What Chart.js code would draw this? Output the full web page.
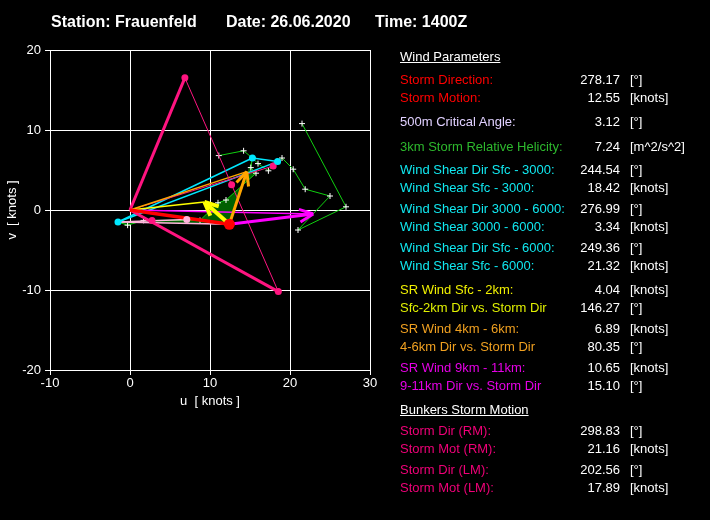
<!DOCTYPE html>
<html>
<head>
<meta charset="utf-8">
<script src="https://cdn.jsdelivr.net/npm/chart.js@4.4.1/dist/chart.umd.min.js"></script>
<style>
  html, body { margin: 0; padding: 0; background: #000; }
  #wrap { position: relative; width: 710px; height: 520px; overflow: hidden; font-family: Arial, "Liberation Sans", sans-serif; }
  #hodo { position: absolute; left: 0; top: 0; }
  .title { position: absolute; top: 13px; font-weight: bold; font-size: 16px; color: #fff; white-space: nowrap; }
  .row { position: absolute; font-size: 13px; line-height: 16px; white-space: nowrap; }
  .val { position: absolute; font-size: 13px; line-height: 16px; color: #fff; text-align: right; width: 80px; }
  .unit { position: absolute; font-size: 13px; line-height: 16px; color: #fff; }
  .head { text-decoration: underline; color: #fff; }
</style>
</head>
<body>
<div id="wrap">
  <canvas id="hodo" width="710" height="520"></canvas>
  <div id="panel"></div>
</div>
<script>
// hodograph (u, v) in knots, surface upward
const hodograph = [
  [-1.5, -1.5], [-0.3, -1.9], [1.7, -1.3], [8.75, -1.3], [11.0, 0.9], [12.0, 1.25],
  [15.75, 4.6], [15.1, 5.3], [15.3, 6.5], [16.0, 5.8], [17.3, 4.9], [18.45, 6.05],
  [19.0, 6.5], [20.4, 5.1], [21.9, 2.6], [25.0, 1.75], [21.0, -2.5], [27.0, 0.4], [21.5, 10.8]
];
const upperBranch = [[15.3, 6.5], [14.2, 7.4], [11.1, 6.8]];
const idx3km = 8;

const surfaceWind = [-1.5, -1.5];
const wind500m = [7.1, -1.2];
const wind3km = [15.3, 6.5];
const wind6km = [18.45, 6.05];

const stormMotion = [12.42, -1.78];
const meanSfc2km = [9.3, 1.0];
const mean4to6km = [14.6, 4.8];
const mean9to11km = [22.9, -0.5];

const bunkersRM = [18.54, -10.2];
const bunkersLM = [6.86, 16.52];
const bunkersMean = [12.7, 3.16];
const pinkExtra = [[17.9, 5.5], [2.75, -1.3]];

const xTicks = [-10, 0, 10, 20, 30];
const yTicks = [-20, -10, 0, 10, 20];

const paramLabels = [
  'Storm Direction:', 'Storm Motion:', '500m Critical Angle:', '3km Storm Relative Helicity:',
  'Wind Shear Dir Sfc - 3000:', 'Wind Shear Sfc - 3000:', 'Wind Shear Dir 3000 - 6000:', 'Wind Shear 3000 - 6000:',
  'Wind Shear Dir Sfc - 6000:', 'Wind Shear Sfc - 6000:', 'SR Wind Sfc - 2km:', 'Sfc-2km Dir vs. Storm Dir',
  'SR Wind 4km - 6km:', '4-6km Dir vs. Storm Dir', 'SR Wind 9km - 11km:', '9-11km Dir vs. Storm Dir',
  'Storm Dir (RM):', 'Storm Mot (RM):', 'Storm Dir (LM):', 'Storm Mot (LM):'
];
const paramValues = [
  '278.17', '12.55', '3.12', '7.24', '244.54', '18.42', '276.99', '3.34', '249.36', '21.32',
  '4.04', '146.27', '6.89', '80.35', '10.65', '15.10', '298.83', '21.16', '202.56', '17.89'
];
const paramUnits = [
  '[°]', '[knots]', '[°]', '[m^2/s^2]', '[°]', '[knots]', '[°]', '[knots]', '[°]', '[knots]',
  '[knots]', '[°]', '[knots]', '[°]', '[knots]', '[°]', '[°]', '[knots]', '[°]', '[knots]'
];
const paramColors = [
  '#ff0000', '#ff0000', '#e0d0ff', '#2db82d', '#10e8f0', '#10e8f0', '#10e8f0', '#10e8f0', '#10e8f0', '#10e8f0',
  '#f0f000', '#e0f000', '#f0a020', '#f0a020', '#e600e6', '#e600e6', '#f00078', '#f00078', '#f00078', '#f00078'
];
const paramRowY = [80, 98, 122, 147, 170, 188, 209, 227, 248, 266, 290, 308, 329, 347, 368, 386, 431, 449, 470, 488];

// --- right panel ---
const panel = document.getElementById('panel');
let html = '<div class="title" style="left:51px">Station: Frauenfeld</div>' +
  '<div class="title" style="left:226px">Date: 26.06.2020</div>' +
  '<div class="title" style="left:375px">Time: 1400Z</div>' +
  '<div class="row head" style="left:400px;top:49px">Wind Parameters</div>' +
  '<div class="row head" style="left:400px;top:402px">Bunkers Storm Motion</div>';
paramLabels.forEach((label, i) => {
  const top = paramRowY[i] - 8;
  html += `<div class="row" style="left:400px;top:${top}px;color:${paramColors[i]}">${label}</div>`;
  html += `<div class="val" style="left:540px;top:${top}px">${paramValues[i]}</div>`;
  html += `<div class="unit" style="left:630px;top:${top}px">${paramUnits[i]}</div>`;
});
panel.innerHTML = html;

// --- chart ---
const pt = p => ({ x: p[0], y: p[1] });
const seg = (a, b) => [pt(a), pt(b)];

function lineSet(data, color, width, order, extra) {
  return Object.assign({
    data: data, showLine: true, borderColor: color, backgroundColor: color,
    borderWidth: width, pointRadius: 0, order: order, tension: 0
  }, extra || {});
}

function dotSet(points, color, radius, order) {
  return {
    data: points.map(pt), showLine: false, pointRadius: radius, pointHoverRadius: radius,
    backgroundColor: color, borderColor: color, borderWidth: 0, order: order
  };
}

const helicityArea = [stormMotion].concat(hodograph.slice(0, idx3km + 1));
const crossMarks = {
  pointRadius: 3, pointStyle: 'cross', pointBorderColor: '#fff', pointBorderWidth: 1, pointBackgroundColor: '#fff'
};

const datasets = [
  lineSet(helicityArea.map(pt), 'rgba(0,0,0,0)', 0, 20, { fill: 'shape', backgroundColor: '#006000' }),
  lineSet(hodograph.map(pt), '#10d010', 1, 15, crossMarks),
  lineSet(upperBranch.map(pt), '#10d010', 1, 15, crossMarks),
  // 500m critical angle
  lineSet(seg(surfaceWind, wind500m), '#ffb4dc', 1.5, 12),
  lineSet(seg(surfaceWind, stormMotion), '#ffb4dc', 1.5, 12),
  // shear vectors
  lineSet(seg(surfaceWind, wind3km), '#00e8ff', 1.5, 11),
  lineSet(seg(surfaceWind, wind6km), '#00e8ff', 1.5, 11),
  lineSet(seg(wind3km, wind6km), '#00e8ff', 1.5, 11),
  // mean winds from origin
  lineSet(seg([0, 0], meanSfc2km), '#ffff00', 1.5, 10),
  lineSet(seg([0, 0], mean4to6km), '#ffa500', 1.5, 10),
  lineSet(seg([0, 0], mean9to11km), '#ff00ff', 1.5, 10),
  lineSet(seg([0, 0], pinkExtra[0]), '#ff1480', 1, 10),
  // bunkers
  lineSet(seg(bunkersLM, bunkersRM), '#ff1480', 1, 9),
  lineSet(seg([0, 0], bunkersLM), '#ff1480', 3, 8),
  lineSet(seg(bunkersRM, [0, 0]), '#ff1480', 3, 8),
  // storm motion
  lineSet(seg([0, 0], stormMotion), '#ff0000', 3.5, 7),
  // storm relative arrows
  lineSet(seg(stormMotion, meanSfc2km), '#ffff00', 4, 6, { arrow: true }),
  lineSet(seg(stormMotion, mean4to6km), '#ffa500', 3, 6, { arrow: true }),
  lineSet(seg(stormMotion, mean9to11km), '#ff00ff', 3, 6, { arrow: true }),
  // dots
  dotSet([bunkersLM, bunkersRM, bunkersMean].concat(pinkExtra), '#ff1480', 3.5, 3),
  dotSet([wind500m], '#ffb4dc', 3.5, 2),
  dotSet([surfaceWind, wind3km, wind6km], '#00e8ff', 3.5, 2),
  dotSet([stormMotion], '#ff0000', 5.5, 1)
];

const arrowHeads = {
  id: 'arrowHeads',
  afterDatasetsDraw(chart) {
    const ctx = chart.ctx;
    chart.data.datasets.forEach((ds, i) => {
      if (!ds.arrow) return;
      const pts = chart.getDatasetMeta(i).data;
      const a = pts[pts.length - 2], b = pts[pts.length - 1];
      const ang = Math.atan2(a.y - b.y, a.x - b.x);
      const len = 15, spread = 25 * Math.PI / 180;
      ctx.save();
      ctx.strokeStyle = ds.borderColor;
      ctx.lineWidth = ds.borderWidth;
      ctx.beginPath();
      [ang - spread, ang + spread].forEach(t => {
        ctx.moveTo(b.x, b.y);
        ctx.lineTo(b.x + len * Math.cos(t), b.y + len * Math.sin(t));
      });
      ctx.stroke();
      ctx.restore();
    });
  }
};

const axisTitles = {
  id: 'axisTitles',
  afterDraw(chart) {
    const { ctx, chartArea } = chart;
    ctx.save();
    ctx.fillStyle = '#fff';
    ctx.font = '13px Arial, "Liberation Sans", sans-serif';
    ctx.textAlign = 'center';
    ctx.textBaseline = 'middle';
    ctx.fillText('u  [ knots ]', (chartArea.left + chartArea.right) / 2, chartArea.bottom + 31);
    ctx.translate(chartArea.left - 38, (chartArea.top + chartArea.bottom) / 2);
    ctx.rotate(-Math.PI / 2);
    ctx.fillText('v  [ knots ]', 0, 0);
    ctx.restore();
  }
};

const axisCommon = {
  type: 'linear',
  grid: { color: '#fff', lineWidth: 1, tickLength: 5, tickColor: '#fff' },
  border: { color: '#fff', width: 1 },
  ticks: { color: '#fff', font: { size: 13, family: 'Arial, "Liberation Sans", sans-serif' }, stepSize: 10 }
};

new Chart(document.getElementById('hodo'), {
  type: 'scatter',
  data: { datasets },
  options: {
    responsive: false,
    animation: false,
    devicePixelRatio: 1,
    layout: { padding: { left: 0, top: 50, right: 340, bottom: 0 } },
    plugins: { legend: { display: false }, tooltip: { enabled: false } },
    scales: {
      x: Object.assign({}, axisCommon, {
        min: xTicks[0], max: xTicks[xTicks.length - 1],
        ticks: Object.assign({}, axisCommon.ticks, { padding: 1 }),
        afterFit: s => { s.height = 150; }
      }),
      y: Object.assign({}, axisCommon, {
        min: yTicks[0], max: yTicks[yTicks.length - 1],
        ticks: Object.assign({}, axisCommon.ticks, { padding: 4 }),
        afterFit: s => { s.width = 50; }
      })
    }
  },
  plugins: [arrowHeads, axisTitles]
});
</script>
</body>
</html>
